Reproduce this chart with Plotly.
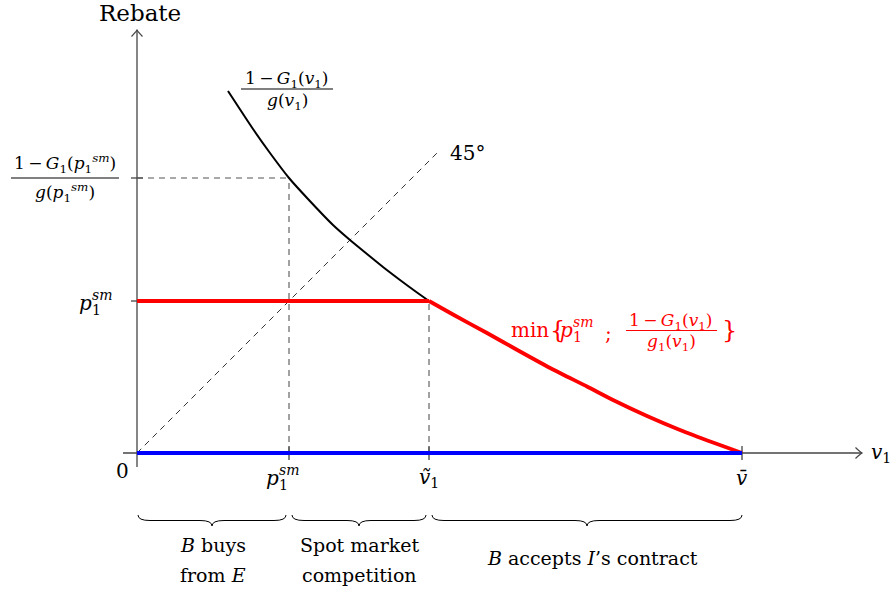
import plotly.graph_objects as go

# ---- data (in chart units; 1 unit = equal length on both axes) ----
p_sm = 1.52          # spot-market price p_1^sm
v_tilde = 2.92       # threshold valuation
v_bar = 6.05         # upper bound of valuations
hazard_at_psm = 2.75 # (1-G1(p_sm))/g(p_sm)

hazard_x = [0.91, 1.16, 1.33, 1.52, 1.71, 1.96, 2.13, 2.30, 2.46, 2.63, 2.80, 2.92]
hazard_y = [3.62, 3.24, 3.00, 2.75, 2.54, 2.28, 2.13, 1.99, 1.86, 1.73, 1.605, 1.52]

red_x = [2.92, 3.16, 3.50, 3.83, 4.16, 4.50, 4.76, 5.10, 5.43, 5.76, 6.05]
red_y = [1.52, 1.385, 1.20, 1.015, 0.835, 0.665, 0.53, 0.37, 0.23, 0.105, 0.00]

diag_end = 3.0
region_labels = [["<i>B</i> buys", "from <i>E</i>"],
                 ["Spot market", "competition"],
                 ["<i>B</i> accepts <i>I</i>’s contract"]]

FONT = "DejaVu Serif"
AX = "#444444"
DASH_C = "#555555"
TS = "\u2009"  # thin space

fig = go.Figure()

def line(x, y, color, width, dash="solid", shape="linear"):
    ln = dict(color=color, width=width, dash=dash, shape=shape)
    if shape == "spline":
        ln["smoothing"] = 0.5
    fig.add_trace(go.Scatter(x=x, y=y, mode="lines", hoverinfo="skip",
                             line=ln, showlegend=False))

# dashed guides
line([0, p_sm], [hazard_at_psm, hazard_at_psm], DASH_C, 1.1, "6px,5px")
line([p_sm, p_sm], [0, hazard_at_psm], DASH_C, 1.1, "6px,5px")
line([v_tilde, v_tilde], [0, p_sm], DASH_C, 1.1, "6px,5px")
line([0, diag_end], [0, diag_end], "#333333", 1, "6px,5px")

# curves
line(hazard_x, hazard_y, "black", 2, shape="spline")
line([0, v_tilde], [p_sm, p_sm], "red", 3.8)
line(red_x, red_y, "red", 3.8, shape="spline")
line([0, v_bar], [0, 0], "blue", 4.2)

shapes = []
def seg(x0, y0, x1, y1, color=AX, width=1.3):
    shapes.append(dict(type="line", x0=x0, y0=y0, x1=x1, y1=y1, xref="x", yref="y",
                       line=dict(color=color, width=width), layer="below"))

# axes
x_tip, y_tip = 7.25, 4.23
seg(-0.14, 0, x_tip, 0)
seg(0, -0.14, 0, y_tip)
shapes.append(dict(type="path", xref="x", yref="y", layer="below",
                   path=f"M {x_tip-0.065},0.055 Q {x_tip-0.02},0.012 {x_tip},0 Q {x_tip-0.02},-0.012 {x_tip-0.065},-0.055",
                   line=dict(color=AX, width=1.2)))
shapes.append(dict(type="path", xref="x", yref="y", layer="below",
                   path=f"M -0.055,{y_tip-0.065} Q -0.012,{y_tip-0.02} 0,{y_tip} Q 0.012,{y_tip-0.02} 0.055,{y_tip-0.065}",
                   line=dict(color=AX, width=1.2)))
# ticks
for xv in [p_sm, v_tilde, v_bar]:
    seg(xv, -0.07, xv, 0.07)
for yv in [p_sm, hazard_at_psm]:
    seg(-0.06, yv, 0.06, yv)

# braces
def brace(x0, x1, yt=-0.62, ym=-0.675, ytip=-0.73, r=0.12):
    xm = (x0 + x1) / 2
    p = (f"M {x0},{yt} Q {x0},{ym} {x0+r},{ym} L {xm-r},{ym} Q {xm},{ym} {xm},{ytip} "
         f"Q {xm},{ym} {xm+r},{ym} L {x1-r},{ym} Q {x1},{ym} {x1},{yt}")
    shapes.append(dict(type="path", path=p, xref="x", yref="y",
                       line=dict(color="black", width=1)))

g = 0.03
brace(0.01, p_sm - g)
brace(p_sm + g, v_tilde - g)
brace(v_tilde + g, v_bar)

anns = []
def txt(x, y, s, size, color="black", xa="center", ya="middle", xs=0, ys=0):
    anns.append(dict(x=x, y=y, xref="x", yref="y", text=s, showarrow=False,
                     xanchor=xa, yanchor=ya, xshift=xs, yshift=ys, borderpad=0,
                     font=dict(family=FONT, size=size, color=color)))

def psm(x_left, y, size, color="black"):
    txt(x_left, y, "<i>p</i>", size, color, xa="left")
    txt(x_left, y, "<i>sm</i>", round(size * 0.72), color, xa="left",
        xs=size * 0.66, ys=size * 0.42)
    txt(x_left, y, "1", round(size * 0.72), color, xa="left",
        xs=size * 0.66, ys=-size * 0.36)

def frac_bar(x0, x1, y, color="black"):
    shapes.append(dict(type="line", x0=x0, x1=x1, y0=y, y1=y, xref="x", yref="y",
                       line=dict(color=color, width=1)))

num_v = f"1{TS}−{TS}<i>G</i><sub>1</sub>(<i>v</i><sub>1</sub>)"
FS = 17

# axis titles
txt(0.03, 4.40, "Rebate", 23)
txt(7.33, 0.0, "<i>v</i><sub>1</sub>", 20, xa="left")
txt(-0.15, -0.18, "0", 20)

# x tick labels
psm(p_sm - 0.24, -0.25, 20)
txt(v_tilde, -0.25, "<i>ṽ</i><sub>1</sub>", 20)
txt(v_bar, -0.25, "<i>v̄</i>", 20)

# y tick labels
psm(-0.59, p_sm - 0.02, 20)
txt(-0.72, 2.90, f"1{TS}−{TS}<i>G</i><sub>1</sub>(<i>p</i><sub>1</sub><sup><i>sm</i></sup>)", FS)
frac_bar(-1.26, -0.18, hazard_at_psm)
txt(-0.72, 2.61, "<i>g</i>(<i>p</i><sub>1</sub><sup><i>sm</i></sup>)", FS)

# curve label
txt(1.50, 3.735, num_v, FS)
frac_bar(1.04, 1.96, 3.64)
txt(1.50, 3.52, "<i>g</i>(<i>v</i><sub>1</sub>)", FS)

# 45 degree
txt(3.12, 3.0, "45°", 20, xa="left")

# red label
txt(3.73, 1.23, "min", 20, "red", xa="left")
txt(4.12, 1.23, "{", 24, "red", xa="left")
psm(4.22, 1.23, 20, "red")
txt(4.67, 1.20, ";", 20, "red", xa="left")
txt(5.34, 1.32, num_v, FS, "red")
frac_bar(4.89, 5.80, 1.225, "red")
txt(5.34, 1.105, "<i>g</i><sub>1</sub>(<i>v</i><sub>1</sub>)", FS, "red")
txt(5.84, 1.23, "}", 24, "red", xa="left")

# region labels
centers = [p_sm / 2, (p_sm + v_tilde) / 2, (v_tilde + v_bar) / 2 + 0.07]
for c, lab in zip(centers, region_labels):
    if len(lab) == 2:
        txt(c, -0.92, lab[0], 19)
        txt(c, -1.22, lab[1], 19)
    else:
        txt(c, -1.05, lab[0], 19)

fig.update_layout(
    width=896, height=592,
    margin=dict(l=0, r=0, t=0, b=0),
    paper_bgcolor="white", plot_bgcolor="white",
    xaxis=dict(range=[-1.37, 7.59], visible=False, fixedrange=True),
    yaxis=dict(range=[-1.39, 4.53], visible=False, fixedrange=True),
    shapes=shapes, annotations=anns, showlegend=False,
)
# remove the default page margin so the figure fills the window exactly
fig.write_html("out.html", config={"displayModeBar": False},
               post_script="document.body.style.margin='0';")
